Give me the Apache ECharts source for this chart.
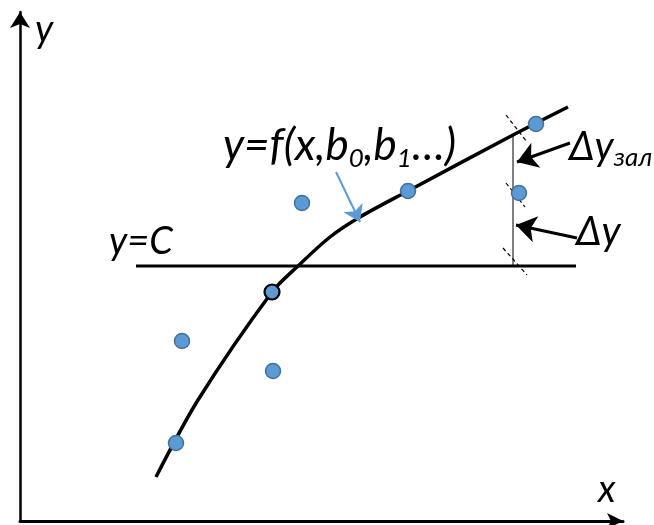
<!DOCTYPE html>
<html>
<head>
<meta charset="utf-8">
<script src="https://cdn.jsdelivr.net/npm/echarts@6/dist/echarts.min.js"></script>
<style>
  html, body { margin: 0; padding: 0; background: #ffffff; }
  #chart { width: 654px; height: 525px; }
</style>
</head>
<body>
<div id="chart"></div>
<script>
// Observed points (x, y), measured from the origin of the axes
const obsX = [156, 162, 253, 252, 282, 388, 499, 516];
const obsY = [78, 180, 150, 229, 318, 330, 328, 397];
// Index of the observation highlighted on the fitted curve
const markedIdx = 3;

// Fitted regression curve y = f(x, b0, b1, ...)
const fitX = [136, 178, 252, 278, 310, 340, 388, 493, 548];
const fitY = [44, 121, 229, 255, 284, 304, 330, 386, 414];

// Constant model y = C
const cLevel = 255;
const cFrom = 116;
const cTo = 556;

// Deviation segment at the chosen observation
const devX = 493;
const devTop = 386;

// Axis extents
const xMax = 603;
const yMax = 509;

const BLUE = '#5B9BD5';
const BLUE_EDGE = '#41719C';
const FONT = 'Lato';

const scatterData = obsX.map((x, i) => {
  const item = { value: [x, obsY[i]] };
  if (i === markedIdx) {
    item.itemStyle = { borderColor: '#000', borderWidth: 2.2 };
  }
  return item;
});

const chart = echarts.init(document.getElementById('chart'), null, { renderer: 'canvas' });

const axisCommon = {
  type: 'value',
  min: 0,
  splitLine: { show: false },
  axisTick: { show: false },
  axisLabel: { show: false },
};

const mainTxt = (size) => ({ fontFamily: FONT, fontStyle: 'italic', fontSize: size, lineHeight: size + 8, color: '#000' });
const subTxt = (size) => ({ fontFamily: FONT, fontStyle: 'italic', fontSize: size, lineHeight: size, verticalAlign: 'bottom', color: '#000' });

chart.setOption({
  animation: false,
  backgroundColor: '#ffffff',
  grid: { left: 20, right: 31, top: 12, bottom: 4 },
  xAxis: Object.assign({}, axisCommon, {
    max: xMax,
    axisLine: {
      show: true,
      symbol: ['none', 'arrow'],
      symbolSize: [12, 16],
      lineStyle: { color: '#000', width: 3 },
    },
  }),
  yAxis: Object.assign({}, axisCommon, {
    max: yMax,
    axisLine: {
      show: true,
      symbol: ['none', 'arrow'],
      symbolSize: [15, 16],
      lineStyle: { color: '#000', width: 2.5 },
    },
  }),
  series: [
    {
      // y = C
      type: 'line',
      data: [[cFrom, cLevel], [cTo, cLevel]],
      symbol: 'none',
      lineStyle: { color: '#000', width: 3 },
      z: 2,
    },
    {
      // deviation segment from C to the curve
      type: 'line',
      data: [[devX, cLevel], [devX, devTop]],
      symbol: 'none',
      lineStyle: { color: '#000', width: 1 },
      z: 2,
    },
    {
      // dashed ticks crossing the deviation segment
      type: 'lines',
      coordinateSystem: 'cartesian2d',
      lineStyle: { color: '#000', width: 1.2, type: [4, 3], opacity: 1 },
      data: [
        { coords: [[486, 406], [507, 379]] },
        { coords: [[486, 338], [505, 314]] },
        { coords: [[483, 273], [507, 246]] },
      ],
      z: 2,
    },
    {
      // fitted curve
      type: 'line',
      data: fitX.map((x, i) => [x, fitY[i]]),
      smooth: 0.3,
      symbol: 'none',
      lineStyle: { color: '#000', width: 3.5 },
      z: 3,
    },
    {
      // pointer arrows to the deviations
      type: 'lines',
      coordinateSystem: 'cartesian2d',
      symbol: ['none', 'arrow'],
      symbolSize: [16, 20],
      lineStyle: { color: '#000', width: 3, opacity: 1 },
      data: [
        { coords: [[550, 378], [497, 359]] },
        { coords: [[557, 283], [496, 296]] },
      ],
      z: 4,
    },
    {
      // pointer arrow to the curve
      type: 'lines',
      coordinateSystem: 'cartesian2d',
      symbol: ['none', 'arrow'],
      symbolSize: [12, 16],
      lineStyle: { color: BLUE, width: 2, opacity: 1 },
      data: [
        { coords: [[316, 349], [340, 299]] },
      ],
      z: 4,
    },
    {
      // observations
      type: 'scatter',
      data: scatterData,
      symbol: 'circle',
      symbolSize: 15,
      itemStyle: { color: BLUE, borderColor: BLUE_EDGE, borderWidth: 1.5, opacity: 1 },
      z: 5,
    },
  ],
  graphic: [
    {
      type: 'text', left: 35, top: 11,
      style: { text: 'y', font: 'italic 38px ' + FONT, fill: '#000' },
    },
    {
      type: 'text', left: 598, top: 471,
      style: { text: 'x', font: 'italic 38px ' + FONT, fill: '#000' },
    },
    {
      type: 'text', left: 109, top: 223,
      style: { text: 'y=C', font: 'italic 38px ' + FONT, fill: '#000' },
    },
    {
      type: 'text', left: 223, top: 124,
      style: {
        text: '{m|y=f(x,b}{s|0}{m|,b}{s|1}{m|…)}',
        rich: { m: mainTxt(44), s: subTxt(26) },
      },
    },
    {
      type: 'text', left: 569, top: 127,
      style: {
        text: '{m|Δy}{s|зал}',
        rich: { m: mainTxt(40), s: subTxt(26) },
      },
    },
    {
      type: 'text', left: 576, top: 212,
      style: { text: 'Δy', font: 'italic 40px ' + FONT, fill: '#000' },
    },
  ],
});
</script>
</body>
</html>
